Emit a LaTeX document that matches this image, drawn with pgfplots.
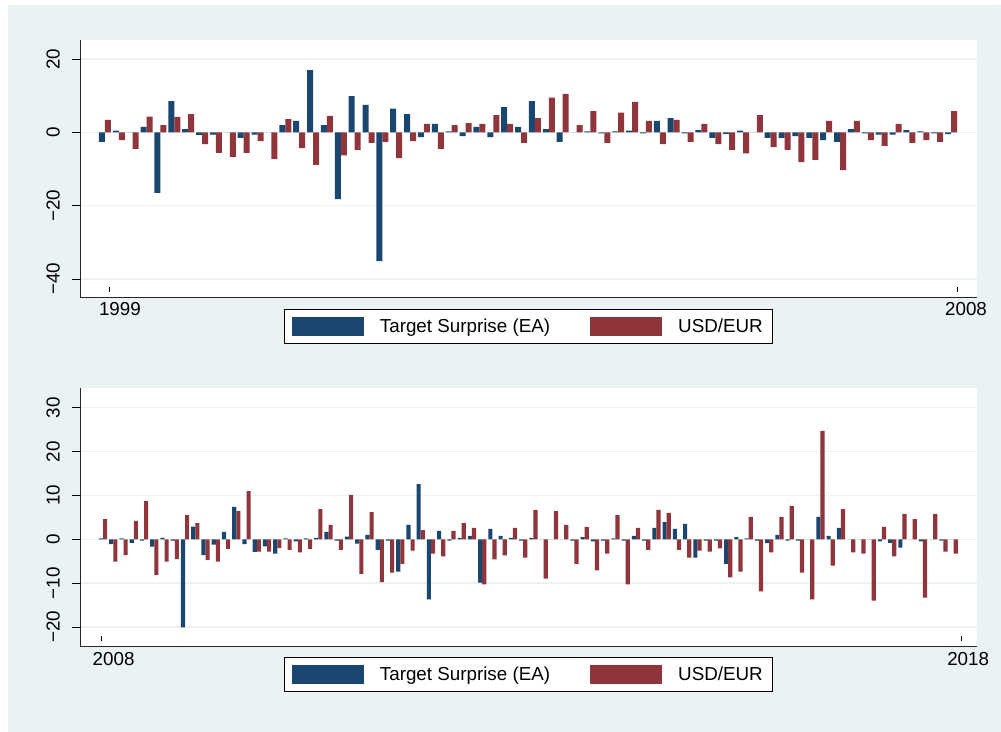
\documentclass[border=0pt]{standalone}
\usepackage{fontspec}
\setmainfont{Liberation Sans}
\usepackage{pgfplots}
\pgfplotsset{compat=1.18}
\usepackage{pgfplotstable}
\definecolor{bgc}{HTML}{EAF2F3}
\definecolor{sblue}{HTML}{1A476F}
\definecolor{sred}{HTML}{90353B}
\newcommand{\sfont}{\fontsize{18.8bp}{22bp}\selectfont}

\pgfplotstableread{
i ts fx
0 -2.6 3.4
1 0.5 -2.1
2 0 -4.5
3 1.5 4.3
4 -16.5 2.0
5 8.5 4.2
6 0.9 5.0
7 -0.7 -3.2
8 -0.6 -5.6
9 0 -6.7
10 -1.5 -5.6
11 -0.6 -2.4
12 0 -7.3
13 2.0 3.6
14 3.1 -4.3
15 17.0 -8.9
16 2.0 4.5
17 -18.2 -6.3
18 9.9 -4.8
19 7.5 -2.9
20 -35.1 -2.6
21 6.5 -7.0
22 5.0 -2.4
23 -1.3 2.3
24 2.3 -4.5
25 0.3 2.0
26 -1.0 2.5
27 1.5 2.3
28 -1.3 4.7
29 6.9 2.3
30 1.5 -2.9
31 8.5 3.9
32 0.9 9.5
33 -2.6 10.5
34 0 2.0
35 0.3 5.8
36 -0.3 -2.9
37 0.3 5.4
38 0.5 8.3
39 -0.3 3.1
40 3.1 -3.2
41 3.9 3.4
42 -0.3 -2.6
43 0.6 2.3
44 -1.5 -3.2
45 -0.4 -4.8
46 0.5 -5.7
47 0 4.7
48 -1.5 -4.0
49 -1.5 -4.8
50 -1.0 -8.1
51 -1.5 -7.5
52 -2.1 3.1
53 -2.6 -10.3
54 0.9 3.1
55 -0.3 -2.1
56 -0.6 -3.7
57 -0.6 2.3
58 0.6 -2.9
59 0.3 -2.1
60 -0.3 -2.6
61 -0.5 5.8
}\topdata

\pgfplotstableread{
i ts fx
0 0.2 4.6
1 -1.1 -5.1
2 0.2 -3.6
3 -0.8 4.2
4 -0.3 8.7
5 -1.7 -8.1
6 0.3 -5.1
7 -0.3 -4.5
8 -20.1 5.5
9 2.9 3.7
10 -3.6 -4.7
11 -1.2 -5.1
12 1.7 -2.2
13 7.4 6.4
14 -1.1 11.0
15 -2.9 -2.8
16 -1.6 -2.8
17 -3.3 -2.0
18 0.2 -2.4
19 -0.5 -3.0
20 0.2 -2.2
21 0.3 6.9
22 1.7 3.3
23 -0.3 -2.4
24 0.6 10.1
25 -1.0 -7.9
26 1.0 6.2
27 -2.4 -9.8
28 -0.3 -7.6
29 -7.4 -5.6
30 3.3 -2.6
31 12.6 2.1
32 -13.7 -3.3
33 1.9 -3.9
34 -0.3 1.9
35 0.3 3.7
36 0.8 2.6
37 -9.9 -10.3
38 2.4 -4.6
39 0.8 -3.7
40 0.3 2.6
41 -0.3 -4.2
42 0.3 6.7
43 0 -9.0
44 0 6.4
45 0 3.3
46 -0.3 -5.6
47 0.5 2.8
48 -0.5 -7.1
49 -0.3 -3.3
50 0.2 5.5
51 -0.3 -10.3
52 0.8 2.6
53 -0.3 -2.4
54 2.6 6.7
55 3.9 6.0
56 2.4 -2.4
57 3.5 -4.2
58 -4.2 -2.6
59 -0.3 -2.8
60 -0.3 -2.1
61 -5.6 -8.7
62 0.5 -7.4
63 0.2 5.1
64 -0.3 -11.9
65 -0.9 -3.0
66 1.0 5.1
67 -0.3 7.6
68 -0.3 -7.6
69 0 -13.7
70 5.1 24.7
71 0.8 -6.0
72 2.6 6.9
73 0 -3.0
74 0 -3.3
75 0 -14.0
76 -0.5 2.8
77 -0.8 -3.9
78 -1.9 5.8
79 0 4.6
80 -0.5 -13.3
81 0 5.8
82 -0.3 -2.8
83 0 -3.3
}\botdata

\pgfplotsset{
  statastyle/.style={
    scale only axis, width=896.7bp,
    axis lines*=left, axis line style={-, black!85, line width=1bp},
    axis background/.style={fill=white},
    tick pos=left,
    ymajorgrids, grid style={bgc, line width=1.4bp},
    tick align=outside, major tick length=8bp,
    ytick style={black, line width=0.8bp},
    tick label style={font=\sfont},
    yticklabel style={xshift=-12bp, rotate=90, anchor=south, inner sep=0pt},
    xtick style={draw=none},
    xticklabel style={anchor=north, inner sep=0pt, yshift=3bp},
    extra x tick labels={},
    extra x tick style={tick align=inside, major tick length=5bp, xtick style={draw=black, line width=0.8bp, yshift=5.6bp}},
    legend columns=2,
    legend style={anchor=north, draw=black, line width=0.8bp, fill=white, font=\sfont,
      inner xsep=8bp, inner ysep=7.5bp,
      /tikz/every odd column/.append style={column sep=14bp},
      /tikz/every even column/.append style={column sep=38bp}},
    legend image code/.code={\fill[##1] (0bp,-9.5bp) rectangle (72bp,9.5bp);},
  },
}

\begin{document}
\begin{tikzpicture}
\fill[white] (0,0) rectangle (1001bp,732bp);
\fill[bgc] (8bp,0) rectangle (1001bp,727bp);

\begin{axis}[statastyle,
  at={(80bp,434.7bp)}, anchor=south west, height=257.3bp,
  xmin=-1.80, xmax=62.85, ymin=-45.0, ymax=25.2,
  ytick={-40,-20,0,20}, yticklabels={−40,−20,0,20},
  xtick={1.08,62.08}, xticklabels={1999,2008},
  extra x ticks={0.31,61.45},
  legend style={at={(0.5,-0.0466)}},
]
\addplot[ybar, bar width=0.4326, bar shift=-0.2163, fill=sblue, draw=none] table[x=i, y=ts] {\topdata};
\addplot[ybar, bar width=0.4326, bar shift=0.2163, fill=sred, draw=none] table[x=i, y=fx] {\topdata};
\legend{Target Surprise (EA), USD/EUR\hspace{6bp}}
\end{axis}

\begin{axis}[statastyle,
  at={(80bp,85.3bp)}, anchor=south west, height=258.7bp,
  xmin=-2.25, xmax=85.25, ymin=-24.5, ymax=34.5,
  ytick={-20,-10,0,10,20,30}, yticklabels={−20,−10,0,10,20,30},
  xtick={1.03,84.42}, xticklabels={2008,2018},
  extra x ticks={-0.17,83.79},
  legend style={at={(0.5,-0.041)}},
]
\addplot[ybar, bar width=0.4, bar shift=-0.2, fill=sblue, draw=none] table[x=i, y=ts] {\botdata};
\addplot[ybar, bar width=0.4, bar shift=0.2, fill=sred, draw=none] table[x=i, y=fx] {\botdata};
\legend{Target Surprise (EA), USD/EUR\hspace{6bp}}
\end{axis}
\end{tikzpicture}
\end{document}
